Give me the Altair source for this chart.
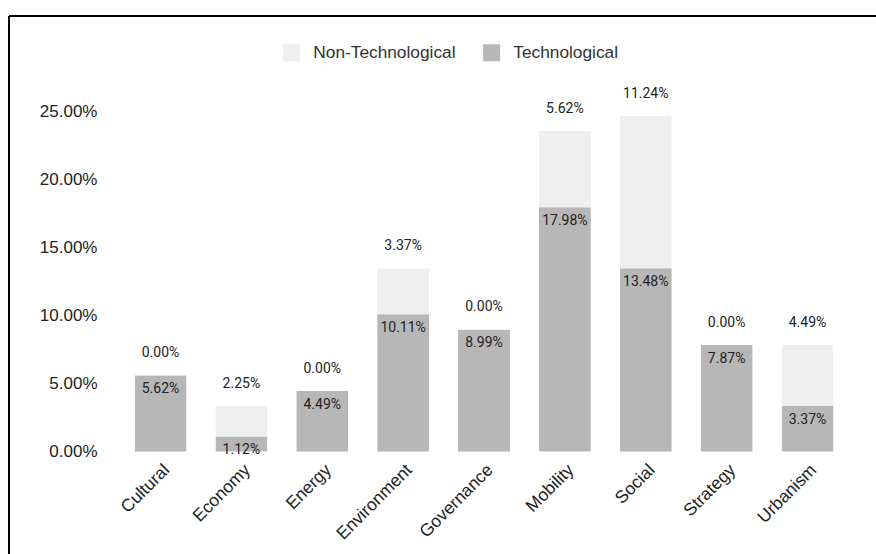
import altair as alt
import pandas as pd

categories = ["Cultural", "Economy", "Energy", "Environment", "Governance",
              "Mobility", "Social", "Strategy", "Urbanism"]
technological = [0.0562, 0.0112, 0.0449, 0.1011, 0.0899, 0.1798, 0.1348, 0.0787, 0.0337]
non_technological = [0.0, 0.0225, 0.0, 0.0337, 0.0, 0.0562, 0.1124, 0.0, 0.0449]
series = ["Non-Technological", "Technological"]
colors = ["#efefef", "#b7b7b7"]
y_ticks = [0.0, 0.05, 0.10, 0.15, 0.20, 0.25]

wide = pd.DataFrame({"category": categories, "tech": technological, "nontech": non_technological})
long = pd.concat([
    pd.DataFrame({"category": categories, "series": "Technological", "value": technological, "ord": 0}),
    pd.DataFrame({"category": categories, "series": "Non-Technological", "value": non_technological, "ord": 1}),
], ignore_index=True)

W, H = 752, 340
LEFT, TOP = 108, 111.7

x_scale = alt.Scale(paddingInner=0.357, paddingOuter=0.3275)
x_axis = alt.Axis(title=None, labelAngle=-45, labelFontSize=17.5, labelFont="Liberation Sans",
                  labelColor="#222", domain=False, ticks=False, labelPadding=9)
y_scale = alt.Scale(domain=[0, 0.25], nice=False, zero=True)
y_axis = alt.Axis(title=None, values=y_ticks, format=".2%", grid=False, domain=False, ticks=False,
                  labelFontSize=17, labelFont="Liberation Sans", labelColor="#222", labelPadding=11)


def X():
    return alt.X("category:N", sort=categories, scale=x_scale, axis=x_axis)


bars = alt.Chart(long).mark_bar(cornerRadius=1).encode(
    x=X(),
    y=alt.Y("value:Q", stack="zero", scale=y_scale, axis=y_axis),
    color=alt.Color("series:N", scale=alt.Scale(domain=series, range=colors),
                    legend=alt.Legend(title=None, orient="none", legendX=175, legendY=-68,
                                      direction="horizontal", symbolType="square", symbolSize=289,
                                      symbolStrokeWidth=0, labelFontSize=17.3, labelFont="Liberation Sans",
                                      labelColor="#333", labelOffset=13, columnPadding=27)),
    order=alt.Order("ord:Q"),
)

tech_labels = alt.Chart(wide).mark_text(font="Roboto", fontSize=14, dy=14, baseline="middle",
                                        color="#222").encode(
    x=X(),
    y=alt.Y("tech:Q", scale=y_scale, axis=y_axis),
    text=alt.Text("tech:Q", format=".2%"),
)

non_labels = alt.Chart(wide).transform_calculate(total="datum.tech + datum.nontech").mark_text(
    font="Roboto", fontSize=14, dy=-22, baseline="middle", color="#222").encode(
    x=X(),
    y=alt.Y("total:Q", scale=y_scale, axis=y_axis),
    text=alt.Text("nontech:Q", format=".2%"),
)

frame_df = pd.DataFrame({"d": [0]})
top_line = alt.Chart(frame_df).mark_rule(color="black", strokeWidth=2).encode(
    x=alt.value(9 - LEFT), x2=alt.value(876 - LEFT + 2), y=alt.value(16 - TOP))
left_line = alt.Chart(frame_df).mark_rule(color="black", strokeWidth=2).encode(
    x=alt.value(9 - LEFT), y=alt.value(16 - TOP), y2=alt.value(554 - TOP + 2))

chart = alt.layer(bars, tech_labels, non_labels, top_line, left_line).properties(
    width=W, height=H,
    background="white",
    autosize=alt.AutoSizeParams(type="none"),
    padding={"left": LEFT, "top": TOP, "right": 876 - LEFT - W, "bottom": 554 - TOP - H},
).configure_view(strokeWidth=0, stroke="transparent")

chart.save("out.html", embed_options={"renderer": "svg", "actions": False})
